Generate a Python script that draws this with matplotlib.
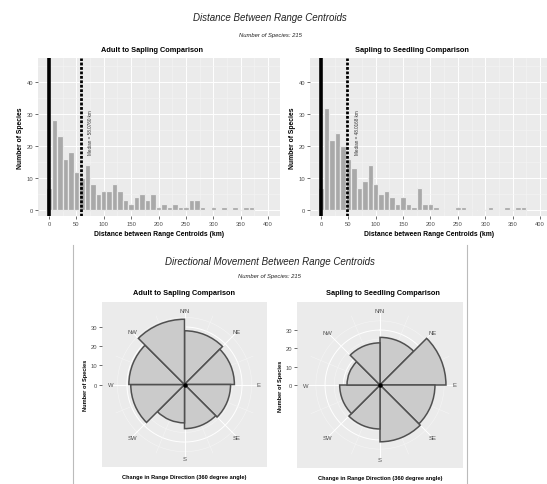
import matplotlib
matplotlib.use('Agg')
import matplotlib.pyplot as plt
import numpy as np
from matplotlib.lines import Line2D

plt.rcParams['font.family'] = ['Liberation Sans', 'DejaVu Sans']

# ---------------- data ----------------
bin_centers = np.arange(0, 380, 10)
adult_sapling_counts = [7, 28, 23, 16, 18, 12, 10, 14, 8, 5, 6, 6, 8, 6, 3, 2, 4, 5, 3, 5,
                        1, 2, 1, 2, 1, 1, 3, 3, 1, 0, 1, 0, 1, 0, 1, 0, 1, 1]
sapling_seedling_counts = [7, 32, 22, 24, 20, 16, 13, 7, 9, 14, 8, 5, 6, 4, 2, 4, 2, 1, 7, 2,
                           2, 1, 0, 0, 0, 1, 1, 0, 0, 0, 0, 1, 0, 0, 1, 0, 1, 1]
median_adult_sapling = 58.076
median_sapling_seedling = 48.0168
n_species = 215

dir_starts = [0, 45, 90, 135, 180, 225, 270, 315]
dir_labels = ['N/N', 'NE', 'E', 'SE', 'S', 'SW', 'W', 'NW']
adult_sapling_dir = [28, 26, 24, 23, 20, 28, 29, 34]
sapling_seedling_dir = [26, 36, 30, 31, 24, 22, 18, 23]

# ---------------- layout helpers ----------------
W, H = 547, 485
fig = plt.figure(figsize=(W / 100, H / 100), dpi=100)

def ax_px(x0, y0, x1, y1, **kw):
    return fig.add_axes([x0 / W, 1 - y1 / H, (x1 - x0) / W, (y1 - y0) / H], **kw)

def ftext(x, y, s, **kw):
    fig.text(x / W, 1 - y / H, s, **kw)

BG = '#EBEBEB'
TICKC = '#4D4D4D'
BARC = '#A9A9A9'

# ---------------- histograms ----------------
def histogram(ax, counts, median, xlim):
    ax.set_facecolor(BG)
    ax.bar(bin_centers, counts, width=10, color=BARC, edgecolor=BG, linewidth=0.9, zorder=3)
    ax.axvline(0, color='black', lw=2.6, zorder=4)
    ax.axvline(median, color='black', lw=2.0, ls=(0, (1.0, 0.6)), zorder=4)
    ax.text(median + 18, 17.5, 'Median = %.4f km' % median, rotation=90, fontsize=3.3,
            ha='center', va='bottom', color='#333333', zorder=5)
    ax.set_xlim(*xlim)
    ax.set_ylim(-1.9, 47.5)
    ax.set_xticks(np.arange(0, 401, 50))
    ax.set_xticks(np.arange(25, 401, 50), minor=True)
    ax.set_yticks([0, 10, 20, 30, 40])
    ax.set_yticks([5, 15, 25, 35, 45], minor=True)
    ax.grid(which='major', color='white', lw=0.7, zorder=0)
    ax.grid(which='minor', color='#F5F5F5', lw=0.4, zorder=0)
    ax.set_axisbelow(True)
    for s in ax.spines.values():
        s.set_visible(False)
    ax.tick_params(which='major', length=2, width=0.5, color='#333333', labelsize=4.2,
                   labelcolor=TICKC, pad=1.5)
    ax.tick_params(which='minor', length=0)
    ax.set_xlabel('Distance between Range Centroids (km)', fontsize=4.9, fontweight='bold',
                  labelpad=3)
    ax.set_ylabel('Number of Species', fontsize=4.9, fontweight='bold', labelpad=2)

ax1 = ax_px(38, 59, 280, 217)
histogram(ax1, adult_sapling_counts, median_adult_sapling, (-20.1, 421.9))
ax2 = ax_px(310, 59, 547, 217)
histogram(ax2, sapling_seedling_counts, median_sapling_seedling, (-20.1, 412.8))

ftext(270, 18, 'Distance Between Range Centroids', fontsize=7, style='italic',
      ha='center', va='center', color='#222222')
ftext(270, 36, 'Number of Species: %d' % n_species, fontsize=4.2, style='italic',
      ha='center', va='center', color='#222222')
ftext(152, 51, 'Adult to Sapling Comparison', fontsize=5.3, fontweight='bold',
      ha='center', va='center')
ftext(412, 51, 'Sapling to Seedling Comparison', fontsize=5.3, fontweight='bold',
      ha='center', va='center')

# ---------------- rose plots ----------------
def rose(box, values, R):
    bg = ax_px(*box)
    bg.set_facecolor(BG)
    bg.set_xlim(-R, R)
    bg.set_ylim(-R, R)
    bg.set_xticks([])
    bg.set_yticks([0, 10, 20, 30])
    bg.tick_params(length=2, width=0.5, color='#333333', labelsize=4.2, labelcolor=TICKC, pad=1.5)
    for s in bg.spines.values():
        s.set_visible(False)
    bg.set_ylabel('Number of Species', fontsize=4.1, fontweight='bold', labelpad=2)
    bg.set_xlabel('Change in Range Direction (360 degree angle)', fontsize=4.1,
                  fontweight='bold', labelpad=5)

    ax = ax_px(*box, projection='polar')
    ax.patch.set_alpha(0)
    ax.set_theta_zero_location('N')
    ax.set_theta_direction(-1)
    ax.spines['polar'].set_visible(False)
    ax.set_rlim(0, R)
    ax.set_xticks([])
    ax.set_yticks([])
    ax.grid(False)
    th = np.linspace(0, 2 * np.pi, 361)
    rr = 0.9 * R
    for r in [10, 20, 30]:
        ax.plot(th, np.full_like(th, r), color='white', lw=0.7, zorder=1)
    for r in [5, 15, 25, 35]:
        if r < rr:
            ax.plot(th, np.full_like(th, r), color='#F5F5F5', lw=0.4, zorder=1)
    for a in np.arange(0, 360, 45):
        ax.plot([np.deg2rad(a)] * 2, [0, rr], color='white', lw=0.7, zorder=1)
    for a in np.arange(22.5, 360, 45):
        ax.plot([np.deg2rad(a)] * 2, [0, rr], color='#F5F5F5', lw=0.4, zorder=1)
    ax.bar(np.deg2rad(dir_starts), values, width=np.deg2rad(45), align='edge',
           color='#CBCBCB', edgecolor='#505050', linewidth=1.1, zorder=3)
    ax.plot([0], [0], 'o', color='black', ms=2.2, zorder=4)
    for a, lab in zip(dir_starts, dir_labels):
        ax.text(np.deg2rad(a), rr, lab, fontsize=4.2, color=TICKC, ha='center',
                va='center', zorder=5)

rose((102, 303, 267, 468), adult_sapling_dir, 43.0)
rose((297, 303, 463, 469), sapling_seedling_dir, 45.3)

ftext(270, 262, 'Directional Movement Between Range Centroids', fontsize=7, style='italic',
      ha='center', va='center', color='#222222')
ftext(269, 277, 'Number of Species: %d' % n_species, fontsize=4.2, style='italic',
      ha='center', va='center', color='#222222')
ftext(184, 294, 'Adult to Sapling Comparison', fontsize=5.3, fontweight='bold',
      ha='center', va='center')
ftext(383, 294, 'Sapling to Seedling Comparison', fontsize=5.3, fontweight='bold',
      ha='center', va='center')

for xv in (73, 467):
    fig.add_artist(Line2D([xv / W, xv / W], [0, 1 - 246 / H], color='#BBBBBB', lw=0.8))

fig.savefig('out.png', dpi=100, facecolor='white')
